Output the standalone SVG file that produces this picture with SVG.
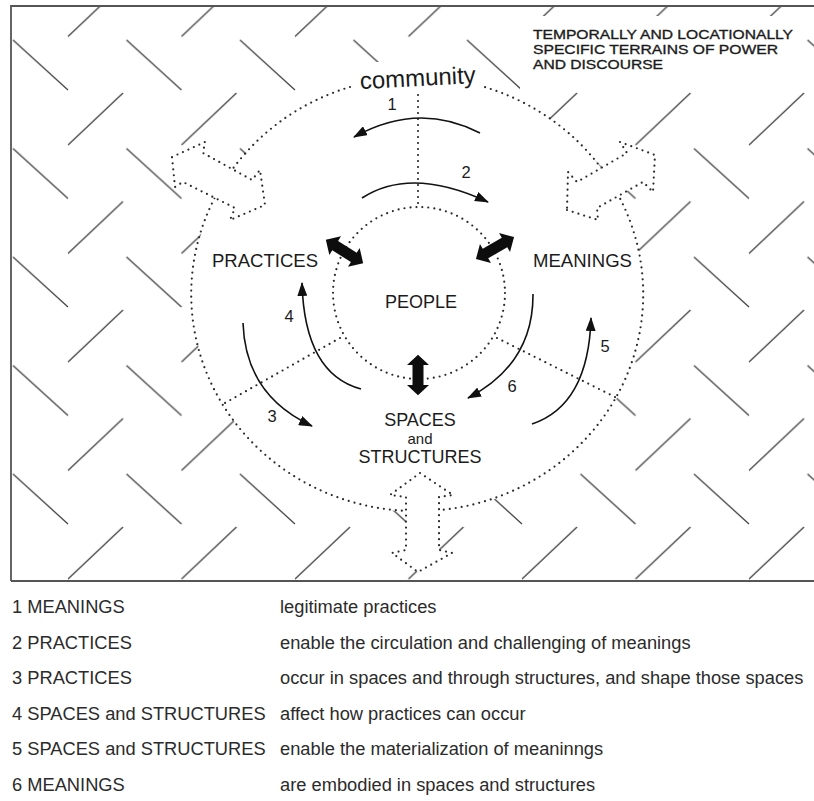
<svg xmlns="http://www.w3.org/2000/svg" width="814" height="801" viewBox="0 0 814 801">
<defs>
<style>
 .t{font-family:"Liberation Sans",Arial,Helvetica,sans-serif;fill:#1b1b1b}
 .lab{font-size:18px}
 .num{font-size:16.5px;text-anchor:middle}
 .leg{font-size:18.3px;fill:#2b2b2b}
 .dot{fill:none;stroke:#2a2a2a;stroke-width:2.2;stroke-linecap:round;stroke-dasharray:0 6}
 .flow{fill:none;stroke:#111;stroke-width:1.6;marker-end:url(#head)}
 .big{fill:#fff;stroke:#2a2a2a;stroke-width:2.2;stroke-linecap:round;stroke-linejoin:round;stroke-dasharray:0 6}
</style>
<!-- herringbone ground: one backslash and one slash per tile -->
<pattern id="hatch" patternUnits="userSpaceOnUse" x="11.25" y="38.25" width="113.5" height="108.5">
 <path d="M1.75 1.75l55 50M56.75 106.75l55 -52" stroke="#444" stroke-width="1.3" fill="none"/>
</pattern>
<marker id="head" viewBox="0 0 14 10" refX="13" refY="5" markerWidth="14" markerHeight="10" markerUnits="userSpaceOnUse" orient="auto">
 <path d="M0 0L14 5L0 10z" fill="#111"/>
</marker>
<!-- solid two-way arrow, drawn horizontally about the origin -->
<path id="dbl" d="M-22 0L-11 -11L-11 -5.5L11 -5.5L11 -11L22 0L11 11L11 5.5L-11 5.5L-11 11Z" fill="#0d0d0d"/>
</defs>

<rect width="814" height="801" fill="#fff"/>

<!-- terrain field -->
<g id="terrain">
 <rect x="11" y="6" width="803" height="575" fill="url(#hatch)"/>
 <ellipse cx="418" cy="295" rx="226" ry="217" fill="#fff"/>
 <rect x="520" y="16" width="286" height="76" fill="#fff"/>
 <rect x="352" y="62" width="132" height="32" fill="#fff"/>
 <path d="M11 581V6H814M11 581H814" fill="none" stroke="#555" stroke-width="1.8"/>
</g>

<g id="connectors">
 <!-- community boundary and its sectors -->
 <path class="dot" d="M350 87A226 217 0 1 0 481 86"/>
 <circle class="dot" cx="419" cy="293" r="86"/>
 <path class="dot" d="M418 95V207M340 338L225 403M497 338L617 398"/>

 <!-- open two-way arrows across the boundary -->
 <polygon class="big" points="172,157 205,142 203,153 252,180 260,170 265,205 230,220 235,208 183,182 175,187"/>
 <polygon class="big" points="567,210 598,220 597,208 643,182 653,192 655,155 620,142 627,153 577,182 568,172"/>
 <polygon class="big" points="420,473 453,495 439,497 439,550 452,553 418,572 392,553 406,550 406,497 390,495"/>

 <!-- solid two-way arrows round PEOPLE -->
 <use href="#dbl" transform="translate(344.5 251.5) rotate(32)"/>
 <use href="#dbl" transform="translate(495 248) rotate(-30)"/>
 <use href="#dbl" transform="translate(418 375) rotate(90) scale(0.92 1)"/>

 <!-- numbered flows -->
 <path class="flow" d="M480 133Q418.5 101 354 137"/>
 <path class="flow" d="M362 198Q411 166 488 202"/>
 <path class="flow" d="M243 323Q245.5 395.5 312 426"/>
 <path class="flow" d="M361 389Q304.5 374 302 283"/>
 <path class="flow" d="M532 424Q588.5 405 591 318"/>
 <path class="flow" d="M533 294Q533.5 364 468 398"/>
 <g class="t num">
  <text x="392" y="110">1</text>
  <text x="466" y="178">2</text>
  <text x="272" y="422">3</text>
  <text x="289" y="322">4</text>
  <text x="605" y="352">5</text>
  <text x="512" y="392">6</text>
 </g>
</g>

<g id="community" class="t">
 <text x="418" y="86" font-size="24" text-anchor="middle" transform="rotate(-3 418 84)">community</text>
</g>

<g id="terrains" class="t" font-size="13.3" stroke="#1b1b1b" stroke-width="0.35">
 <text x="533" y="38.5" textLength="260" lengthAdjust="spacingAndGlyphs">TEMPORALLY AND LOCATIONALLY</text>
 <text x="533" y="53.5" textLength="245" lengthAdjust="spacingAndGlyphs">SPECIFIC TERRAINS OF POWER</text>
 <text x="533" y="68.5" textLength="130" lengthAdjust="spacingAndGlyphs">AND DISCOURSE</text>
</g>

<g id="practices" class="t lab"><text x="212" y="267" textLength="106" lengthAdjust="spacingAndGlyphs">PRACTICES</text></g>
<g id="meanings" class="t lab"><text x="533" y="267" textLength="99" lengthAdjust="spacingAndGlyphs">MEANINGS</text></g>
<g id="people" class="t lab"><text x="421" y="308" text-anchor="middle">PEOPLE</text></g>
<g id="spaces" class="t lab" text-anchor="middle">
 <text x="420" y="426">SPACES</text>
 <text x="420" y="443.5" font-size="15">and</text>
 <text x="420" y="463">STRUCTURES</text>
</g>

<g id="legend" class="t leg">
 <text x="12" y="613">1 MEANINGS</text>
 <text x="280" y="613">legitimate practices</text>
 <text x="12" y="648.5">2 PRACTICES</text>
 <text x="280" y="648.5">enable the circulation and challenging of meanings</text>
 <text x="12" y="684">3 PRACTICES</text>
 <text x="280" y="684">occur in spaces and through structures, and shape those spaces</text>
 <text x="12" y="719.5">4 SPACES and STRUCTURES</text>
 <text x="280" y="719.5">affect how practices can occur</text>
 <text x="12" y="755">5 SPACES and STRUCTURES</text>
 <text x="280" y="755">enable the materialization of meaninngs</text>
 <text x="12" y="790.5">6 MEANINGS</text>
 <text x="280" y="790.5">are embodied in spaces and structures</text>
</g>
</svg>
